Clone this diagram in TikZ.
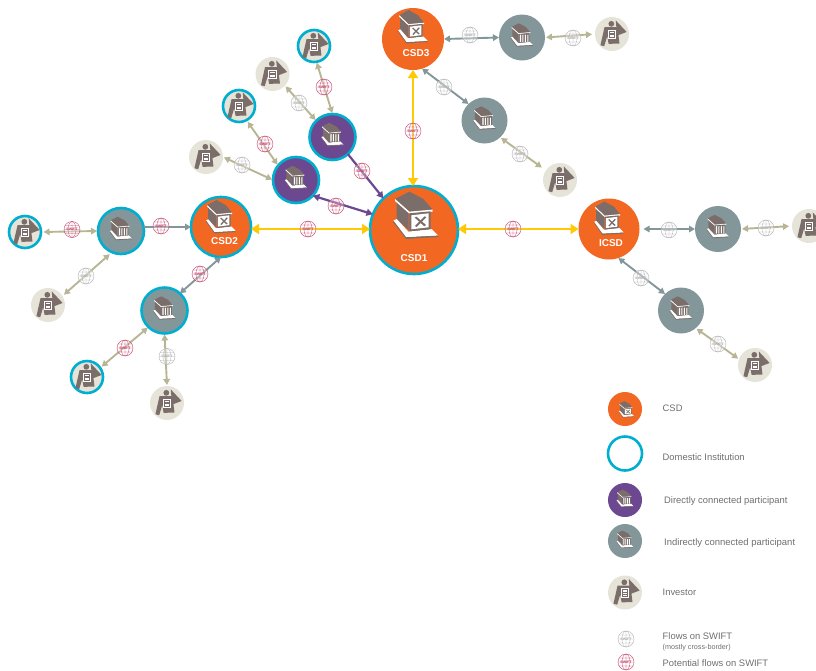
\documentclass[tikz,border=0pt]{standalone}
\usepackage{fontspec}
\setmainfont{Liberation Sans}
\usetikzlibrary{arrows.meta}
\definecolor{csdorange}{HTML}{F26722}
\definecolor{ringcyan}{HTML}{00AECF}
\definecolor{dirpurple}{HTML}{6B4890}
\definecolor{indgrey}{HTML}{83979A}
\definecolor{invbg}{HTML}{E6E3D9}
\definecolor{flowtan}{HTML}{B8B594}
\definecolor{flowyellow}{HTML}{FFC907}
\definecolor{iconbrown}{HTML}{7B6E6A}
\definecolor{globered}{HTML}{C4476E}
\definecolor{globegrey}{HTML}{B2B2B2}
\definecolor{labelgrey}{HTML}{6D6E71}
\newcommand{\BankBody}{%
    \fill[iconbrown] (-58,-38)--(-22,-3)--(-22,48)--(-58,14)--cycle;
    \fill[iconbrown] (-63,-46)--(-20,-68)--(22,-46)--(50,-14)--(-20,-8)--cycle;
    \fill[white] (-63,-46)--(-20,-8)--(50,-14)--(50,-8)--(-20,-2)--(-63,-40)--cycle;
    \fill[white] (-68,19)--(-30,69)--(67,64)--(47,44)--(-23,52)--(-58,14)--cycle;
    \fill[iconbrown] (-68,19)--(-30,69)--(67,64)--(67,68)--(-30,74)--(-68,24)--cycle;
    \fill[iconbrown] (-20,-3)--(44,-9)--(44,45)--(-20,51)--cycle;}
\tikzset{
  x=1pt,y=-1pt,
  disc/.style={circle,inner sep=0pt,minimum size=#1,outer sep=0pt},
  ringed/.style={draw=ringcyan,line width=2.6pt},
  yflow/.style={draw=flowyellow,line width=2pt,{Triangle[width=10pt,length=8pt]}-{Triangle[width=10pt,length=8pt]}},
  tanflow/.style={draw=flowtan,line width=1.9pt,shorten <=1pt,shorten >=1pt,{Triangle[width=6.5pt,length=6pt]}-{Triangle[width=6.5pt,length=6pt]}},
  greyflow/.style={draw=indgrey,line width=1.9pt,{Triangle[width=6.5pt,length=6pt]}-{Triangle[width=6.5pt,length=6pt]}},
  greyone/.style={draw=indgrey,line width=1.9pt,-{Triangle[width=6.5pt,length=6pt]}},
  purpflow/.style={draw=dirpurple,line width=2.2pt,{Triangle[width=7pt,length=6.5pt]}-{Triangle[width=7pt,length=6.5pt]}},
  purpone/.style={draw=dirpurple,line width=2.2pt,-{Triangle[width=7pt,length=6.5pt]}},
  legendtext/.style={text=labelgrey,font=\fontsize{9.4}{11}\selectfont,anchor=west,inner sep=0pt},
  csdlabel/.style={text=white,font=\bfseries\fontsize{10}{12}\selectfont,inner sep=0pt},
  bankx/.pic={
    \BankBody
    \fill[white] (-14,3)--(38,-3)--(38,39)--(-14,45)--cycle;
    \fill[iconbrown] (-4,10)--(1,7)--(30,32)--(25,36)--cycle;
    \fill[iconbrown] (26,6)--(31,9)--(2,38)--(-3,35)--cycle;
  },
  bankc/.pic={
    \BankBody
    \foreach \cx in {-13,2,17,32}{\fill[white] (\cx,2)--(\cx+7,1)--(\cx+7,45)--(\cx,46)--cycle;}
  },
  investor/.pic={
    \fill[iconbrown] (-2,-30) circle[radius=8.5];
    \fill[iconbrown] (11,-40)--(43,-6)--(17,4)--(13,-18)--cycle;
    \fill[iconbrown] (-22,-20)--(16,-20)--(22,28)--(-10,29)--(-14,6)--(-23,36)--(-34,33)--cycle;
    \fill[white] (-12,-13)--(12,-13)--(12,15)--(-12,15)--cycle;
    \fill[iconbrown] (-9,-10)--(9,-10)--(9,12)--(-9,12)--cycle;
    \fill[white] (-6,-7)--(6,-7)--(6,-2)--(-6,-2)--cycle;
    \fill[white] (-6,2)--(6,2)--(6,4)--(-6,4)--cycle;
    \fill[white] (-6,7)--(6,7)--(6,9)--(-6,9)--cycle;
  }
}
% investor: name, x, y, options
\newcommand{\Inv}[4]{\node[disc=34pt,fill=invbg,#4] (#1) at (#2,#3) {};
  \pic[scale=0.34] at (#1) {investor};}
% participant: name, x, y, options
\newcommand{\Part}[4]{\node[disc=46pt,#4] (#1) at (#2,#3) {};
  \pic[scale=0.165] at ([yshift=3pt]#1) {bankc};}
% swift globe: name, x, y, colour
\newcommand{\Gl}[4]{\node[disc=16pt,draw=#4,line width=0.4pt,fill=white,fill opacity=0.35,
    text opacity=1,text=#4,font=\fontsize{3.6}{4}\selectfont\bfseries] (#1) at (#2,#3) {SWIFT};
  \draw[#4,line width=0.35pt] (#1.north) arc[start angle=90,end angle=270,x radius=4pt,y radius=8pt]
     (#1.north) arc[start angle=90,end angle=-90,x radius=4pt,y radius=8pt]
     (#1.north)--(#1.south) (#1.west)--(#1.east)
     ([yshift=-4pt]#1.center) ++(-6.9pt,0)--++(13.8pt,0)
     ([yshift=4pt]#1.center) ++(-6.9pt,0)--++(13.8pt,0);}
\begin{document}
\begin{tikzpicture}
\useasboundingbox (0,0) rectangle (816,670);
% hubs
\node[disc=88pt,fill=csdorange,ringed] (csd1) at (414,230) {};
\node[disc=60pt,fill=csdorange,ringed] (csd2) at (221,227) {};
\node[disc=62pt,fill=csdorange] (csd3) at (413,39) {};
\node[disc=61pt,fill=csdorange] (icsd) at (609,229) {};
% participants
\Part{pa}{332.5}{137}{fill=dirpurple,ringed}
\Part{pb}{296}{180}{fill=dirpurple,ringed}
\Part{ga}{121}{231}{fill=indgrey,ringed}
\Part{gb}{164.5}{310.5}{fill=indgrey,ringed}
\Part{gc}{522}{37.5}{fill=indgrey}
\Part{gd}{484.5}{120.5}{fill=indgrey}
\Part{ge}{718}{229}{fill=indgrey}
\Part{gf}{681}{310.5}{fill=indgrey}
% investors
\Inv{ia}{25}{232}{minimum size=32pt,ringed}
\Inv{ib}{48}{305}{}
\Inv{ic}{87}{377}{minimum size=32pt,ringed}
\Inv{id}{167}{403}{}
\Inv{ie}{206}{157}{}
\Inv{if}{239}{106}{minimum size=32pt,ringed}
\Inv{ig}{272.5}{74}{}
\Inv{ih}{314}{46}{minimum size=32pt,ringed}
\Inv{ii}{612}{34}{}
\Inv{ij}{560}{180}{}
\Inv{ik}{809}{226}{}
\Inv{il}{755}{365}{}
% connectors
\draw[yflow] ([yshift=-2pt]csd2.east) -- ([yshift=1pt]csd1.west);
\draw[yflow] ([yshift=1pt]csd1.east) -- (icsd.west);
\draw[yflow] (csd3.south) -- (csd3.south |- csd1.north);
\draw[purpone] (pa.-48) -- (csd1.134);
\draw[purpflow] (pb.-43) -- (csd1.159);
\draw[greyone] (ga.10) -- (csd2.180);
\draw[greyflow] (gb.48) -- (csd2.-90);
\draw[greyflow] (csd3.0) -- (gc.180);
\draw[greyflow] (csd3.-73) -- (gd.134);
\draw[greyflow,shorten <=4pt] (icsd.0) -- (ge.180);
\draw[greyflow] (icsd.-72) -- (gf.134);
\draw[tanflow,shorten <=2.5pt] (ia.0) -- (ga.180);
\draw[tanflow,shorten <=2pt,shorten >=3pt] (ib.32) -- (ga.247);
\draw[tanflow,shorten <=2pt] (ic.35) -- (gb.226);
\draw[tanflow] (id.90) -- (gb.-90);
\draw[tanflow] (ie.0) -- (pb.180);
\draw[tanflow,shorten <=2pt] (if.-62) -- (pb.141);
\draw[tanflow] (ig.-43) -- (pa.135);
\draw[tanflow,shorten <=1pt] (ih.-81) -- (pa.90);
\draw[tanflow,shorten >=3pt] (gc.0) -- (ii.180);
\draw[tanflow,shorten >=5pt] (gd.-47) -- (ij.146);
\draw[tanflow,shorten >=3pt] (ge.0) -- (ik.180);
\draw[tanflow] (gf.-50) -- (il.160);
% hub icons
\pic[scale=0.333] at ([xshift=2pt,yshift=15.7pt]csd1) {bankx};
\pic[xscale=0.22,yscale=0.235] at ([xshift=0pt,yshift=11pt]csd2) {bankx};
\pic[xscale=0.22,yscale=0.235] at ([xshift=0pt,yshift=13pt]csd3) {bankx};
\pic[xscale=0.22,yscale=0.235] at ([xshift=0pt,yshift=11.5pt]icsd) {bankx};
\node[csdlabel] (lcsd1) at ([yshift=-28pt]csd1) {CSD1};
\node[csdlabel] (lcsd2) at ([xshift=3.5pt,yshift=-14pt]csd2) {CSD2};
\node[csdlabel] (lcsd3) at ([xshift=3pt,yshift=-14pt]csd3) {CSD3};
\node[csdlabel] (licsd) at ([xshift=2pt,yshift=-14pt]icsd) {ICSD};
% globes
\Gl{s1}{72}{229.5}{globered}
\Gl{s2}{86}{276}{globegrey}
\Gl{s3}{161}{226}{globered}
\Gl{s4}{200}{274}{globered}
\Gl{s5}{125}{348}{globered}
\Gl{s6}{167}{356.5}{globegrey}
\Gl{s7}{265}{144}{globered}
\Gl{s8}{242}{165}{globegrey}
\Gl{s9}{324}{87}{globered}
\Gl{s10}{299}{103}{globegrey}
\Gl{s11}{362}{171}{globered}
\Gl{s12}{336}{206}{globered}
\Gl{s13}{308}{229}{globered}
\Gl{s14}{413}{131}{globered}
\Gl{s15}{513}{229}{globered}
\Gl{s16}{444}{87}{globegrey}
\Gl{s17}{470}{35}{globegrey}
\Gl{s18}{520}{154}{globegrey}
\Gl{s19}{573}{38}{globegrey}
\Gl{s20}{669}{230}{globegrey}
\Gl{s21}{766}{228}{globegrey}
\Gl{s22}{641}{278}{globegrey}
\Gl{s23}{718}{344}{globegrey}
% legend
\node[disc=34pt,fill=csdorange] (lega) at (625,409) {};
\pic[scale=0.115] at ([xshift=1.5pt]lega) {bankx};
\node[disc=34pt,ringed] (legb) at (625,453.5) {};
\node[disc=34pt,fill=dirpurple] (legc) at (625,500) {};
\pic[scale=0.125] at ([yshift=2pt]legc) {bankc};
\node[disc=34pt,fill=indgrey] (legd) at (625,541) {};
\pic[scale=0.125] at ([yshift=2pt]legd) {bankc};
\Inv{lege}{625}{592.5}{}
\Gl{legf}{626}{639}{globegrey}
\Gl{legg}{626}{662}{globered}
\node[legendtext] (ta) at (662.5,408.5) {CSD};
\node[legendtext] (tb) at (662.5,457.5) {Domestic Institution};
\node[legendtext] (tc) at (664,501.5) {Directly connected participant};
\node[legendtext,font=\fontsize{9.5}{11}\selectfont] (td) at (664,543.5) {Indirectly connected participant};
\node[legendtext] (te) at (662.5,592.5) {Investor};
\node[legendtext] (tf) at (662.5,636.5) {Flows on SWIFT};
\node[legendtext,font=\fontsize{7.2}{8}\selectfont] (tg) at (662.5,647.5) {(mostly cross-border)};
\node[legendtext] (th) at (662.5,663) {Potential flows on SWIFT};
\end{tikzpicture}
\end{document}
